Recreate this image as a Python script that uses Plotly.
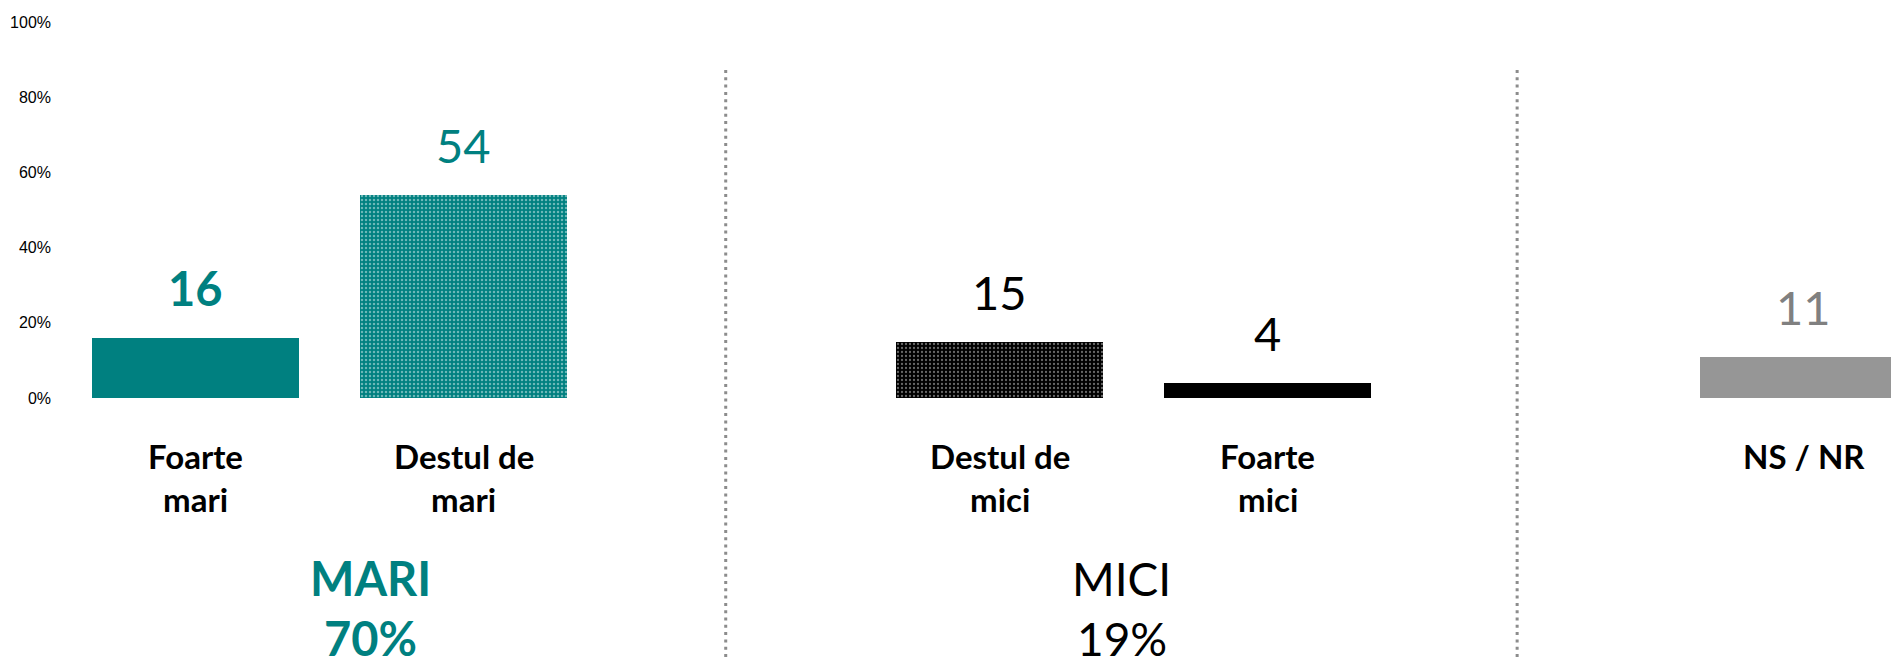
import plotly.graph_objects as go

# ---- data ----
positions = [0, 1, 3, 4, 6]
values = [16, 54, 15, 4, 11]
cat_line1 = ["Foarte", "Destul de", "Destul de", "Foarte", "NS / NR"]
cat_line2 = ["mari", "mari", "mici", "mici", ""]
group_names = ["MARI", "MICI"]
group_totals = ["70%", "19%"]
group_x = [0.65, 3.455]
divider_x = [1.977, 4.93]
y_ticks = [0, 20, 40, 60, 80, 100]
y_tick_text = ["0%", "20%", "40%", "60%", "80%", "100%"]

TEAL = "#008080"
bar_colors = [TEAL, TEAL, "#000000", "#000000", "#969696"]
label_colors = [TEAL, TEAL, "#000000", "#000000", "#808080"]
label_bold = [True, False, False, False, False]
patterns = [
    dict(shape=""),
    dict(shape=".", fgcolor="#d8eeee", bgcolor=TEAL, size=4, solidity=0.3),
    dict(shape=".", fgcolor="#d0d0d0", bgcolor="#000000", size=4, solidity=0.25),
    dict(shape=""),
    dict(shape=""),
]
group_colors = [TEAL, "#000000"]
group_bold = [True, False]
group_sizes = [47, 46]

FONT = "Lato, 'Open Sans', sans-serif"

fig = go.Figure()
for p, v, c, pat in zip(positions, values, bar_colors, patterns):
    fig.add_trace(go.Bar(
        x=[p], y=[v], width=0.772,
        marker=dict(color=c, line=dict(width=0), pattern=pat),
        showlegend=False, hoverinfo="skip",
    ))

annotations = []
# value labels
for p, v, c, b in zip(positions, values, label_colors, label_bold):
    txt = f"<b>{v}</b>" if b else str(v)
    annotations.append(dict(
        x=p, y=v, xref="x", yref="y", text=txt, showarrow=False,
        yanchor="middle", yshift=50,
        font=dict(family=FONT, size=47, color=c),
    ))

# page y (pixels) -> paper y; plot spans page y 22 (100%) to 398 (0%)
def py_to_paper(py):
    return (398 - py) / 376.0

for p, l1, l2 in zip(positions, cat_line1, cat_line2):
    annotations.append(dict(
        x=p, y=py_to_paper(456), xref="x", yref="paper", text=f"<b>{l1}</b>",
        showarrow=False, yanchor="middle",
        font=dict(family=FONT, size=33, color="#000000"),
    ))
    if l2:
        annotations.append(dict(
            x=p, y=py_to_paper(499), xref="x", yref="paper", text=f"<b>{l2}</b>",
            showarrow=False, yanchor="middle",
            font=dict(family=FONT, size=33, color="#000000"),
        ))

# group labels
for gx, name, tot, col, b, sz in zip(group_x, group_names, group_totals,
                                     group_colors, group_bold, group_sizes):
    for txt, py in ((name, 578), (tot, 638)):
        annotations.append(dict(
            x=gx, y=py_to_paper(py), xref="x", yref="paper",
            text=f"<b>{txt}</b>" if b else txt,
            showarrow=False, yanchor="middle",
            font=dict(family=FONT, size=sz, color=col),
        ))

shapes = []
for dx in divider_x:
    shapes.append(dict(
        type="line", xref="x", yref="paper", x0=dx, x1=dx,
        y0=py_to_paper(657), y1=py_to_paper(68),
        line=dict(color="#8c8c8c", width=3, dash="3px,4.3px"),
    ))

# page body has an 8px margin; keep the figure inside the window (no scrollbars)
fig.update_layout(
    width=1883, height=649,
    margin=dict(l=52, r=0, t=14, b=259),
    paper_bgcolor="white", plot_bgcolor="white",
    bargap=0,
    xaxis=dict(range=[-0.507, 6.325], showticklabels=False, showgrid=False,
               zeroline=False, showline=False, ticks="", fixedrange=True),
    yaxis=dict(range=[0, 100], tickvals=y_ticks, ticktext=y_tick_text,
               showgrid=False, zeroline=False, showline=False, ticks="",
               ticklabelstandoff=8,
               tickfont=dict(family="Arial, 'Liberation Sans', sans-serif", size=16, color="#000000")),
    annotations=annotations,
    shapes=shapes,
)

fig.write_html("out.html")
